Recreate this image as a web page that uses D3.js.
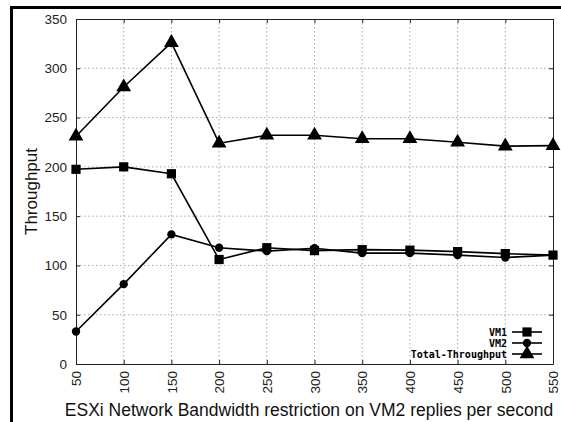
<!DOCTYPE html>
<html>
<head>
<meta charset="utf-8">
<script src="https://cdn.jsdelivr.net/npm/d3@7"></script>
<style>
  body { margin: 0; background: #fff; }
  svg { display: block; }
  .grid line { stroke: #aaa; stroke-dasharray: 1.5,2.5; }
</style>
</head>
<body>
<div id="chart"></div>
<script>
const bandwidth = [50, 100, 150, 200, 250, 300, 350, 400, 450, 500, 550];
const vm1 = [197.5, 200, 193, 106, 118, 115, 116, 115.5, 114, 112, 110.5];
const vm2 = [33, 81, 131.5, 118, 114.5, 117.5, 112.5, 112.5, 110.5, 108, 110.5];
const total = [231, 281, 326, 224, 232, 232, 228.5, 228.5, 225, 221, 221.5];
const yTicks = [0, 50, 100, 150, 200, 250, 300, 350];
const seriesNames = ['VM1', 'VM2', 'Total-Throughput'];

const W = 561, H = 422;
const plotLeft = 76, plotRight = 553, plotTop = 19, plotBottom = 364;

const svg = d3.select('#chart').append('svg')
  .attr('width', W).attr('height', H);

// outer frame (cropped at the right and bottom)
svg.append('path')
  .attr('d', 'M11.5,' + H + ' V7.5 H' + W)
  .attr('fill', 'none').attr('stroke', '#000').attr('stroke-width', 3);

const x = d3.scaleLinear().domain([50, 550]).range([plotLeft, plotRight]);
const y = d3.scaleLinear().domain([0, 350]).range([plotBottom, plotTop]);

// grid
const grid = svg.append('g').attr('class', 'grid');
grid.selectAll('.gx').data(bandwidth.slice(1, -1)).enter().append('line')
  .attr('x1', d => x(d)).attr('x2', d => x(d))
  .attr('y1', plotTop).attr('y2', plotBottom);
grid.selectAll('.gy').data(yTicks.slice(1, -1)).enter().append('line')
  .attr('x1', plotLeft).attr('x2', plotRight)
  .attr('y1', d => y(d)).attr('y2', d => y(d));

// axes
const axisFont = '"Liberation Sans", Arial, sans-serif';
const gx = svg.append('g')
  .attr('transform', 'translate(0,' + plotBottom + ')')
  .call(d3.axisBottom(x).tickValues(bandwidth).tickSizeInner(-4).tickSizeOuter(0).tickPadding(6));
gx.selectAll('text')
  .attr('transform', 'rotate(-90)')
  .attr('x', -7).attr('y', 0).attr('dy', '0.35em')
  .attr('text-anchor', 'end');
const gxTop = svg.append('g')
  .attr('transform', 'translate(0,' + plotTop + ')')
  .call(d3.axisTop(x).tickValues(bandwidth).tickSizeInner(-4).tickSizeOuter(0).tickFormat(''));

const gy = svg.append('g')
  .attr('transform', 'translate(' + plotLeft + ',0)')
  .call(d3.axisLeft(y).tickValues(yTicks).tickSizeInner(-4).tickSizeOuter(0).tickPadding(9));
const gyRight = svg.append('g')
  .attr('transform', 'translate(' + plotRight + ',0)')
  .call(d3.axisRight(y).tickValues(yTicks).tickSizeInner(-4).tickSizeOuter(0).tickFormat(''));

[gx, gxTop, gy, gyRight].forEach(function(g) {
  g.select('.domain').attr('stroke', '#222');
  g.selectAll('.tick line').attr('stroke', '#222');
  g.selectAll('text').attr('font-family', axisFont).attr('font-size', 13.5).attr('fill', '#222');
});

// axis titles
svg.append('text')
  .attr('transform', 'translate(37,' + ((plotTop + plotBottom) / 2) + ') rotate(-90)')
  .attr('text-anchor', 'middle')
  .attr('font-family', axisFont).attr('font-size', 17).attr('fill', '#111')
  .text('Throughput');
svg.append('text')
  .attr('x', 309).attr('y', 416)
  .attr('text-anchor', 'middle')
  .attr('font-family', axisFont).attr('font-size', 17.5).attr('fill', '#111')
  .text('ESXi Network Bandwidth restriction on VM2 replies per second');

// series
const series = [vm1, vm2, total];
const markers = [d3.symbolSquare, d3.symbolCircle, d3.symbolTriangle];
const markerSize = [85, 55, 95];
const line = d3.line().x((d, i) => x(bandwidth[i])).y(d => y(d));

series.forEach(function(vals, s) {
  svg.append('path')
    .datum(vals)
    .attr('fill', 'none').attr('stroke', '#000').attr('stroke-width', 1.6)
    .attr('d', line);
  svg.append('g').selectAll('path')
    .data(vals).enter().append('path')
    .attr('transform', (d, i) => 'translate(' + x(bandwidth[i]) + ',' + y(d) + ')')
    .attr('d', d3.symbol().type(markers[s]).size(markerSize[s]))
    .attr('fill', '#000');
});

// legend
const legend = svg.append('g');
seriesNames.forEach(function(name, s) {
  const ly = 332 + s * 11;
  legend.append('text')
    .attr('x', 507).attr('y', ly).attr('dy', '0.35em')
    .attr('text-anchor', 'end')
    .attr('font-family', '"DejaVu Sans Mono", monospace')
    .attr('font-weight', 'bold').attr('font-size', 10)
    .text(name);
  legend.append('line')
    .attr('x1', 512).attr('x2', 542).attr('y1', ly).attr('y2', ly)
    .attr('stroke', '#000').attr('stroke-width', 1.6);
  legend.append('path')
    .attr('transform', 'translate(527,' + ly + ')')
    .attr('d', d3.symbol().type(markers[s]).size(markerSize[s]))
    .attr('fill', '#000');
});
</script>
</body>
</html>
